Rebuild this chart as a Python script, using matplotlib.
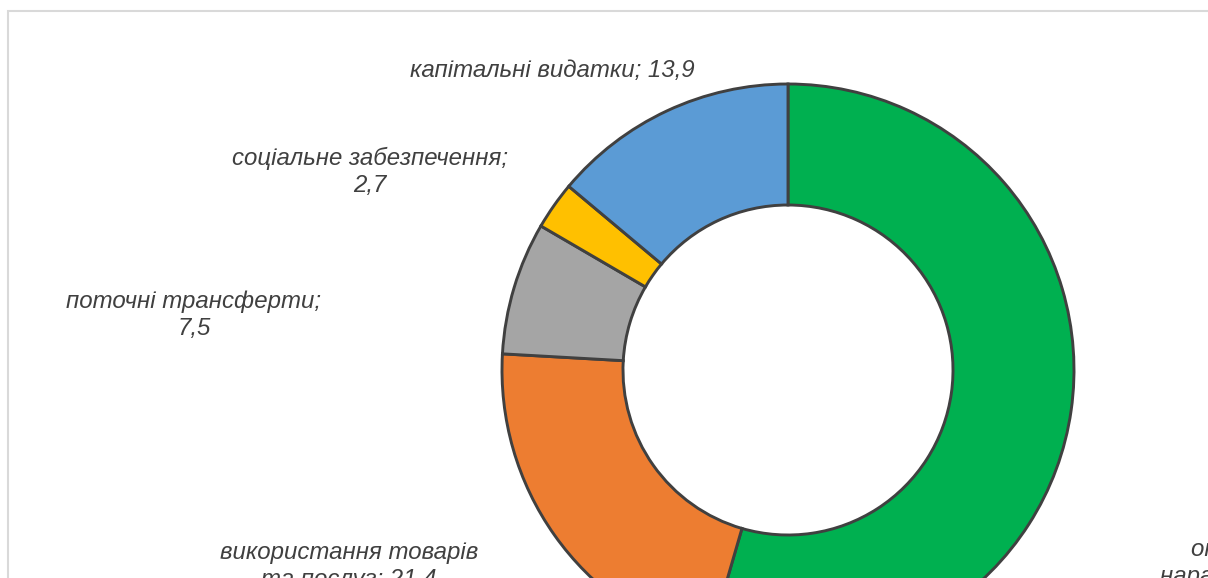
import matplotlib
matplotlib.use("Agg")
import matplotlib.pyplot as plt
from matplotlib.patches import Rectangle

categories = ["оплата праці з\nнарахуваннями; 54,5",
              "використання товарів\nта послуг; 21,4",
              "поточні трансферти;\n7,5",
              "соціальне забезпечення;\n2,7",
              "капітальні видатки; 13,9"]
values = [54.5, 21.4, 7.5, 2.7, 13.9]
colors = ["#00B050", "#ED7D31", "#A5A5A5", "#FFC000", "#5B9BD5"]
label_pos = [(1276, 15), (349, 12), (194, 263), (370, 406), (552, 508)]

W, H = 1208, 578
fig = plt.figure(figsize=(W / 100, H / 100), dpi=100)
ax = fig.add_axes([0, 0, 1, 1])

cx, cy, R = 788, H - 370, 286
ax.pie(values, colors=colors, startangle=90, counterclock=False,
       center=(cx, cy), radius=R, frame=True,
       wedgeprops=dict(width=121, edgecolor="#404040", linewidth=2.1))
ax.set_xlim(0, W)
ax.set_ylim(0, H)
ax.set_aspect("equal")
ax.axis("off")

ax.add_patch(Rectangle((7.5, -50), 1400, H - 10.5 + 50, fill=False,
                       edgecolor="#D9D9D9", linewidth=1.5))

for lab, (x, y) in zip(categories, label_pos):
    ax.text(x, y, lab, ha="center", va="center", fontsize=17.3,
            style="italic", family="Liberation Sans", color="#404040",
            linespacing=1.22)

fig.savefig("out.png", dpi=100)
